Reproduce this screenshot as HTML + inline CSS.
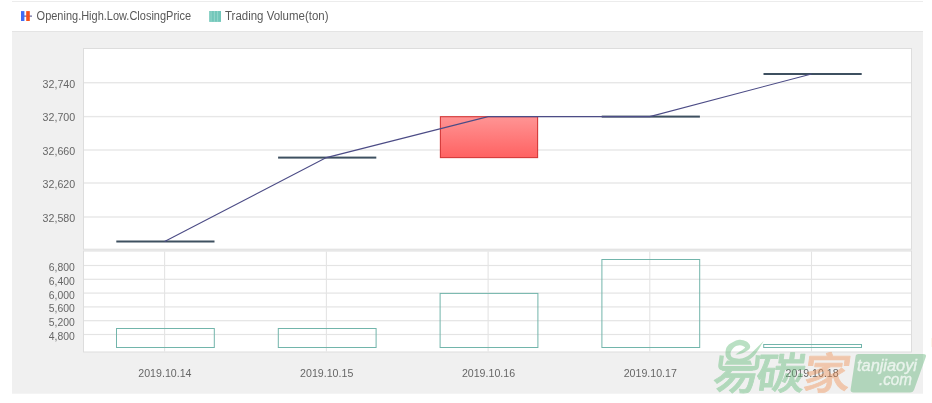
<!DOCTYPE html>
<html>
<head>
<meta charset="utf-8">
<title>Chart</title>
<style>
html,body{margin:0;padding:0;background:#fff;}
body{width:932px;height:403px;overflow:hidden;font-family:"Liberation Sans","Noto Sans CJK SC",sans-serif;}
svg{display:block;}
.lbl{font-family:"Liberation Sans",sans-serif;font-size:11.5px;fill:#666;}
.leg{font-family:"Liberation Sans",sans-serif;font-size:12px;fill:#595959;}
</style>
</head>
<body>
<svg width="932" height="403" viewBox="0 0 932 403">
  <defs>
    <linearGradient id="red" x1="0" y1="0" x2="0" y2="1">
      <stop offset="0" stop-color="#ff9494"/>
      <stop offset="1" stop-color="#ff6262"/>
    </linearGradient>
  </defs>
  <rect x="0" y="0" width="932" height="403" fill="#ffffff"/>
  <!-- top hairline -->
  <rect x="12" y="1" width="911" height="1" fill="#ececec"/>
  <!-- legend -->
  <g>
    <rect x="24" y="15.6" width="8" height="1" fill="#4a4a8c"/>
    <rect x="21" y="11.1" width="3.4" height="9.9" fill="#3f6cf5"/>
    <rect x="26.2" y="11.1" width="3.6" height="9.9" fill="#f4511e"/>
    <text class="leg" x="36.6" y="19.6" textLength="154.5" lengthAdjust="spacingAndGlyphs">Opening.High.Low.ClosingPrice</text>
    <rect x="209.2" y="11" width="11.8" height="10.9" fill="#72c7ba"/>
    <rect x="210.6" y="11" width="0.9" height="10.9" fill="#98d7cc"/>
    <rect x="213.9" y="11" width="0.9" height="10.9" fill="#98d7cc"/>
    <rect x="217.2" y="11" width="0.9" height="10.9" fill="#98d7cc"/>
    <text class="leg" x="225" y="19.6" textLength="103.5" lengthAdjust="spacingAndGlyphs">Trading Volume(ton)</text>
  </g>
  <rect x="931" y="338" width="1" height="9" fill="#fdf5ea"/>
  <!-- panel -->
  <rect x="12" y="31" width="911" height="362.7" fill="#f0f0f0"/>
  <rect x="12" y="31" width="911" height="1" fill="#e4e4e4"/>
  <!-- upper plot -->
  <rect x="83.5" y="48.5" width="828" height="200.7" fill="#ffffff" stroke="#dddddd" stroke-width="1"/>
  <!-- lower plot -->
  <rect x="83.5" y="251" width="828" height="101" fill="#ffffff" stroke="#dddddd" stroke-width="1"/>
  <!-- upper grid -->
  <g fill="#e7e7e7">
    <rect x="84" y="82.0" width="827" height="1.4"/>
    <rect x="84" y="115.9" width="827" height="1.4"/>
    <rect x="84" y="149.3" width="827" height="1.4"/>
    <rect x="84" y="182.3" width="827" height="1.4"/>
    <rect x="84" y="216.3" width="827" height="1.4"/>
  </g>
  <!-- lower grid -->
  <g fill="#e4e4e4">
    <rect x="84" y="264.9" width="827" height="1.2"/>
    <rect x="84" y="278.7" width="827" height="1.2"/>
    <rect x="84" y="292.5" width="827" height="1.2"/>
    <rect x="84" y="306.3" width="827" height="1.2"/>
    <rect x="84" y="320.1" width="827" height="1.2"/>
    <rect x="84" y="333.9" width="827" height="1.2"/>
    <rect x="164.05" y="251.5" width="1.1" height="100"/>
    <rect x="325.85" y="251.5" width="1.1" height="100"/>
    <rect x="487.55" y="251.5" width="1.1" height="100"/>
    <rect x="649.25" y="251.5" width="1.1" height="100"/>
    <rect x="810.95" y="251.5" width="1.1" height="100"/>
  </g>
  <!-- y labels upper -->
  <g class="lbl" text-anchor="end">
    <text x="75.2" y="87.6" textLength="32.6" lengthAdjust="spacingAndGlyphs">32,740</text>
    <text x="75.2" y="121.3" textLength="32.6" lengthAdjust="spacingAndGlyphs">32,700</text>
    <text x="75.2" y="154.8" textLength="32.6" lengthAdjust="spacingAndGlyphs">32,660</text>
    <text x="75.2" y="188.2" textLength="32.6" lengthAdjust="spacingAndGlyphs">32,620</text>
    <text x="75.2" y="221.8" textLength="32.6" lengthAdjust="spacingAndGlyphs">32,580</text>
    <text x="74.8" y="270.9" textLength="26" lengthAdjust="spacingAndGlyphs">6,800</text>
    <text x="74.8" y="284.7" textLength="26" lengthAdjust="spacingAndGlyphs">6,400</text>
    <text x="74.8" y="298.5" textLength="26" lengthAdjust="spacingAndGlyphs">6,000</text>
    <text x="74.8" y="312.3" textLength="26" lengthAdjust="spacingAndGlyphs">5,600</text>
    <text x="74.8" y="326.1" textLength="26" lengthAdjust="spacingAndGlyphs">5,200</text>
    <text x="74.8" y="339.9" textLength="26" lengthAdjust="spacingAndGlyphs">4,800</text>
  </g>
  <!-- x labels -->
  <g class="lbl" text-anchor="middle">
    <text x="164.9" y="376.7" textLength="53.2" lengthAdjust="spacingAndGlyphs">2019.10.14</text>
    <text x="326.7" y="376.7" textLength="53.2" lengthAdjust="spacingAndGlyphs">2019.10.15</text>
    <text x="488.5" y="376.7" textLength="53.2" lengthAdjust="spacingAndGlyphs">2019.10.16</text>
    <text x="650.3" y="376.7" textLength="53.2" lengthAdjust="spacingAndGlyphs">2019.10.17</text>
    <text x="812.1" y="376.7" textLength="53.2" lengthAdjust="spacingAndGlyphs">2019.10.18</text>
  </g>
  <!-- candle -->
  <rect x="440.4" y="116.7" width="97.2" height="40.9" fill="url(#red)" stroke="#d43838" stroke-width="1.1"/>
  <!-- flat candles -->
  <g fill="#3e5060">
    <rect x="116.3" y="240.5" width="98.2" height="2"/>
    <rect x="278.1" y="156.6" width="98.2" height="2"/>
    <rect x="601.7" y="115.6" width="98.2" height="2"/>
    <rect x="763.5" y="73" width="98.2" height="2"/>
  </g>
  <!-- close line -->
  <polyline points="164.6,241.5 326.4,157.6 488.1,116.6 649.8,116.6 811.5,74" fill="none" stroke="#4c4c86" stroke-width="1.1"/>
  <!-- volume bars -->
  <g fill="none" stroke="#72b5ab" stroke-width="1">
    <rect x="116.5" y="328.5" width="97.8" height="19"/>
    <rect x="278.3" y="328.5" width="97.8" height="19"/>
    <rect x="440.1" y="293.4" width="97.8" height="54.1"/>
    <rect x="601.9" y="259.5" width="97.8" height="88"/>
    <rect x="763.7" y="344.5" width="97.8" height="3"/>
  </g>
  <!-- watermark -->
  <defs>
    <clipPath id="yiclip"><rect x="700" y="369.5" width="70" height="30"/></clipPath>
  </defs>
  <g opacity="0.44">
    <g font-family="'Noto Sans CJK SC',sans-serif" font-weight="500" font-size="46" stroke="#62bb78" stroke-width="0.9" stroke-linejoin="round">
      <g clip-path="url(#yiclip)"><text transform="translate(711.5,388.6) skewX(-8)" fill="#62bb78">易</text></g>
      <text transform="translate(754.3,388.9) skewX(-8) scale(1.07,0.935)" fill="#62bb78">碳</text>
    </g>
    <path d="M763.7 341.1 C762.3 343.3 758.0 351.1 755.4 354.3 C752.8 357.5 751.1 358.7 748.4 360.2 C745.7 361.7 742.1 362.9 739.4 363.2 C736.7 363.5 734.5 362.9 732.4 362.0 C730.3 361.1 727.9 359.7 726.8 358.0 C725.6 356.3 725.3 354.1 725.5 352.0 C725.7 349.9 725.9 347.5 728.0 345.5 C730.1 343.5 735.0 340.8 738.0 340.1 C741.0 339.4 744.0 340.4 746.0 341.3 C748.0 342.2 749.5 344.2 750.0 345.5 C750.5 346.8 750.1 347.9 749.3 349.0 C748.5 350.1 746.5 351.2 745.0 352.0 C743.5 352.8 741.6 353.6 740.0 354.0 C738.4 354.4 736.0 354.5 735.2 354.6 L735.2 354.6 C735.8 354.2 737.7 352.9 739.0 352.0 C740.3 351.1 742.0 350.3 743.0 349.5 C744.0 348.7 745.5 348.0 745.0 347.3 C744.5 346.6 741.8 345.4 740.0 345.3 C738.2 345.2 736.0 346.0 734.5 347.0 C733.0 348.0 731.6 350.2 731.0 351.5 C730.4 352.8 730.5 354.0 730.8 355.0 C731.1 356.0 731.4 357.0 732.8 357.6 C734.2 358.2 737.1 358.9 739.4 358.8 C741.6 358.7 744.1 358.0 746.3 356.8 C748.5 355.6 749.7 354.5 752.6 351.9 C755.5 349.3 761.9 342.9 763.7 341.1 Z" fill="#62bb78"/>
    <path d="M727 360.5 L750.5 360.5 L752 364.7 L724.5 364.7 Z" fill="#62bb78"/>
    <path d="M721.8 355.5 L720.4 365.5 Q720 368.2 722.8 368.2 L754.2 368.2 Q756.6 368.2 756.9 365.8 L758 355.3" fill="none" stroke="#62bb78" stroke-width="4.4" stroke-linejoin="round"/>
    <path d="M855.5 357 Q855.5 354 858.5 354 L923 354 Q927 354 925.8 357 L914 390 Q913 392.5 910 392.5 L853.5 392.5 Q850.3 392.5 850.6 389.5 Z" fill="#62b478"/>
  </g>
  <g opacity="0.40">
    <text transform="translate(801.5,388.9) skewX(-8) scale(1.03,0.94)" font-family="'Noto Sans CJK SC',sans-serif" font-weight="500" font-size="46" fill="#f08a48" stroke="#f08a48" stroke-width="0.9" stroke-linejoin="round">家</text>
  </g>
  <g font-family="'Liberation Sans',sans-serif" font-style="italic" font-size="16" fill="#ffffff" stroke="#ffffff" stroke-width="0.35" opacity="0.72">
    <text x="857" y="371" textLength="60" lengthAdjust="spacingAndGlyphs">tanjiaoyi</text>
    <text x="879" y="384.5" textLength="33" lengthAdjust="spacingAndGlyphs">.com</text>
  </g>
</svg>
</body>
</html>
